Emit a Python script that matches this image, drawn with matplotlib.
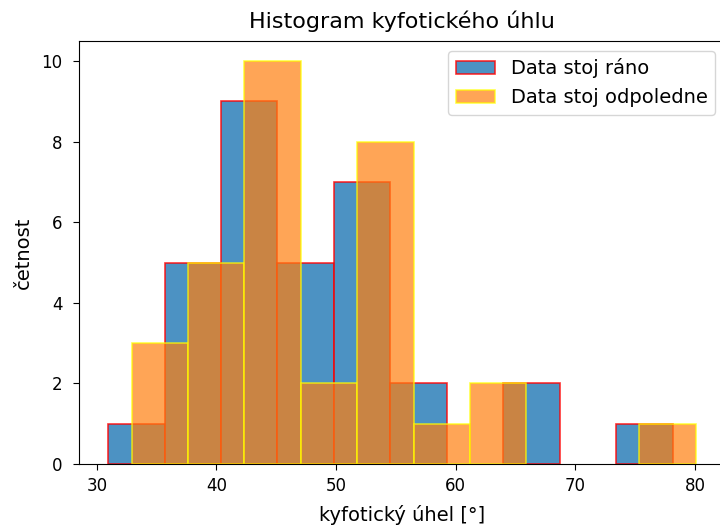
import numpy as np
import matplotlib
matplotlib.use("Agg")
import matplotlib.pyplot as plt

# bin edges and counts
edges_rano = [30.94, 35.66, 40.38, 45.10, 49.82, 54.54, 59.26, 63.98, 68.70, 73.42, 78.14]
counts_rano = [1, 5, 9, 5, 7, 2, 0, 2, 0, 1]

edges_odpoledne = [32.90, 37.62, 42.33, 47.05, 51.76, 56.48, 61.20, 65.91, 70.63, 75.34, 80.06]
counts_odpoledne = [3, 5, 10, 2, 8, 1, 2, 0, 0, 1]

labels = ["Data stoj ráno", "Data stoj odpoledne"]

fig = plt.figure(figsize=(7.2, 5.26), dpi=100)
W, H = 720, 526
ax = fig.add_axes([78.7 / W, (H - 464) / H, (725 - 78.7) / W, (464 - 41) / H])

e1 = np.array(edges_rano)
e2 = np.array(edges_odpoledne)
_, _, bars1 = ax.hist((e1[:-1] + e1[1:]) / 2, bins=e1, weights=counts_rano,
                      color="C0", edgecolor="red", alpha=0.8, linewidth=1.2, label=labels[0])
_, _, bars2 = ax.hist((e2[:-1] + e2[1:]) / 2, bins=e2, weights=counts_odpoledne,
                      color="C1", edgecolor="yellow", alpha=0.7, linewidth=1.2, label=labels[1])
# empty bins would leave an edge line on the axis
for p in list(bars1) + list(bars2):
    if p.get_height() == 0:
        p.set_visible(False)

ax.tick_params(labelsize=12, length=4.5)
ax.tick_params(axis="x", pad=5)
ax.tick_params(axis="y", pad=7)
ax.set_xlabel("kyfotický úhel [°]", fontsize=14)
ax.set_ylabel("četnost", fontsize=14)
ax.xaxis.set_label_coords(0.5, (464 - 505) / 423)
ax.yaxis.set_label_coords((33 - 78.7) / 646.3, 0.5)
ax.set_title("Histogram kyfotického úhlu", fontsize=16, pad=9)
ax.legend(fontsize=14, loc="upper right")

fig.savefig("out.png", dpi=100)
